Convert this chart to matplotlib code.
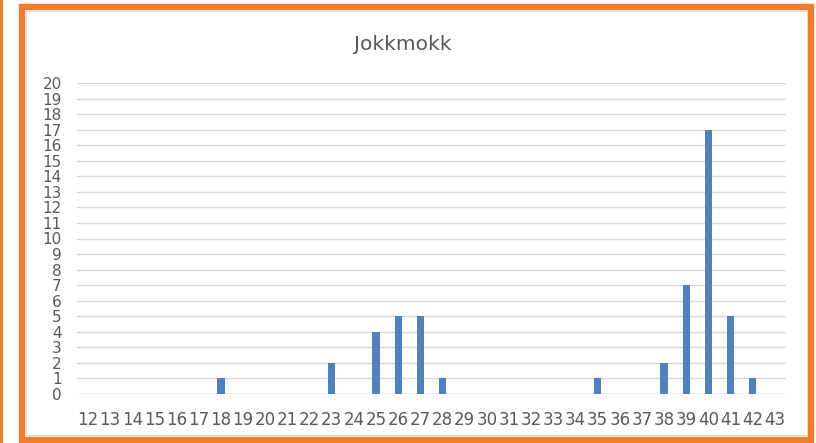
import numpy as np
import matplotlib
matplotlib.use('Agg')
import matplotlib.pyplot as plt
from matplotlib.patches import Rectangle

# category labels and counts
categories = [str(c) for c in range(12, 44)]
counts = [0, 0, 0, 0, 0, 0, 1, 0, 0, 0, 0, 2, 0, 4, 5, 5, 1,
          0, 0, 0, 0, 0, 0, 1, 0, 0, 2, 7, 17, 5, 1, 0]
y_ticks = list(range(0, 21))

W, H = 816, 443
fig = plt.figure(figsize=(W / 100, H / 100), dpi=100)
fig.patch.set_facecolor('white')

ax = fig.add_axes([77 / W, (H - 394) / H, (786 - 77) / W, (394 - 83) / H])
x = np.arange(len(categories))
ax.bar(x, counts, width=0.33, color='#4F81BD', zorder=3)

ax.set_xlim(-0.5, len(categories) - 0.5)
ax.set_ylim(0, 20)
ax.set_yticks(y_ticks)
ax.set_yticklabels([str(t) for t in y_ticks])
ax.set_xticks(x)
ax.set_xticklabels(categories)
ax.tick_params(axis='both', length=0, labelcolor='#595959')
ax.tick_params(axis='x', labelsize=12, pad=12)
ax.tick_params(axis='y', labelsize=11, pad=11)
ax.grid(axis='y', color='#D9D9D9', linewidth=1, zorder=0)
for s in ax.spines.values():
    s.set_visible(False)
ax.axhline(0, color='#D9D9D9', linewidth=1, zorder=1)

fig.text(403 / W, 1 - 45 / H, 'Jokkmokk', ha='center', va='center',
         fontsize=14.5, color='#595959')

# orange frame
fig.add_artist(Rectangle((22 / W, 3 / H), (811 - 22) / W, (436 - 3) / H,
                         transform=fig.transFigure, fill=False,
                         edgecolor='#ED7D31', linewidth=4.6))
fig.add_artist(Rectangle((26 / W, 8 / H), (807 - 26) / W, (432 - 8) / H,
                         transform=fig.transFigure, fill=False,
                         edgecolor='#D9D9D9', linewidth=0.7))
fig.add_artist(Rectangle((0, 0), 3 / W, 1, transform=fig.transFigure,
                         facecolor='#ED7D31', edgecolor='none'))

fig.savefig('out.png', dpi=100)
